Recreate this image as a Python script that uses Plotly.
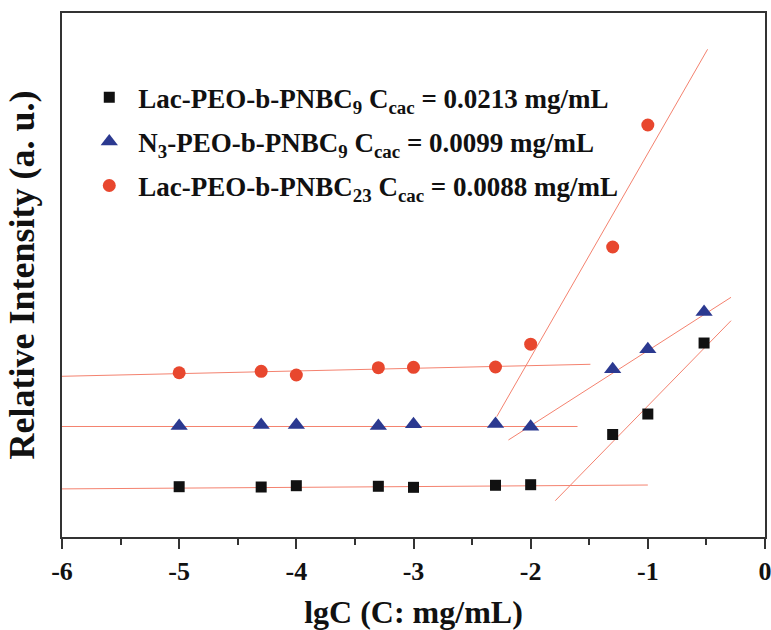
import plotly.graph_objects as go

# concentrations (lgC) and relative intensities (a.u.)
lgc = [-5.0, -4.3, -4.0, -3.3, -3.0, -2.3, -2.0, -1.3, -1.0, -0.52]
lgc_red = [-5.0, -4.3, -4.0, -3.3, -3.0, -2.3, -2.0, -1.3, -1.0]

lac9 = [9.60, 9.54, 9.79, 9.68, 9.48, 9.87, 9.98, 19.56, 23.47, 37.02]
n3_9 = [21.18, 21.37, 21.37, 21.18, 21.51, 21.56, 21.05, 32.00, 35.82, 42.94]
lac23 = [31.35, 31.62, 30.92, 32.31, 32.39, 32.44, 36.79, 55.34, 78.63]

# fitted line segments (endpoints)
fit_lac9_flat_x, fit_lac9_flat_y = [-6.0, -1.0], [9.18, 9.92]
fit_lac9_steep_x, fit_lac9_steep_y = [-1.79, -0.29], [6.93, 41.28]
fit_n3_flat_x, fit_n3_flat_y = [-6.0, -1.6], [21.09, 21.09]
fit_n3_steep_x, fit_n3_steep_y = [-2.19, -0.29], [18.51, 45.74]
fit_lac23_flat_x, fit_lac23_flat_y = [-6.0, -1.49], [30.67, 32.96]
fit_lac23_steep_x, fit_lac23_steep_y = [-2.29, -0.49], [22.96, 93.07]

x_ticks = [-6, -5, -4, -3, -2, -1, 0]

FONT = "Liberation Serif"
LINE_COLOR = "#f4826f"

fig = go.Figure()

for fx, fy in [(fit_lac9_flat_x, fit_lac9_flat_y), (fit_lac9_steep_x, fit_lac9_steep_y),
               (fit_n3_flat_x, fit_n3_flat_y), (fit_n3_steep_x, fit_n3_steep_y),
               (fit_lac23_flat_x, fit_lac23_flat_y), (fit_lac23_steep_x, fit_lac23_steep_y)]:
    fig.add_trace(go.Scatter(x=fx, y=fy, mode="lines", line=dict(color=LINE_COLOR, width=1),
                             showlegend=False, hoverinfo="skip"))

fig.add_trace(go.Scatter(x=lgc, y=lac9, mode="markers", legendgroup="a",
                         name="Lac-PEO-b-PNBC<sub>9</sub> C<sub>cac</sub> = 0.0213 mg/mL",
                         marker=dict(symbol="square", size=11, color="#111111")))
fig.add_trace(go.Scatter(x=lgc, y=n3_9, mode="markers", legendgroup="b",
                         name="N<sub>3</sub>-PEO-b-PNBC<sub>9</sub> C<sub>cac</sub> = 0.0099 mg/mL",
                         marker=dict(symbol="triangle-up", size=15, color="#2b3990")))
fig.add_trace(go.Scatter(x=lgc_red, y=lac23, mode="markers", legendgroup="c",
                         name="Lac-PEO-b-PNBC<sub>23</sub> C<sub>cac</sub> = 0.0088 mg/mL",
                         marker=dict(symbol="circle", size=13, color="#e8472e")))

fig.update_layout(
    width=771, height=630,
    margin=dict(l=62, r=6, t=13, b=93),
    paper_bgcolor="white", plot_bgcolor="white",
    font=dict(family=FONT, color="#111111", weight="bold"),
    legend=dict(x=0.026, y=0.885, xanchor="left", yanchor="top",
                font=dict(family=FONT, size=27, color="#111111", weight="bold"),
                bgcolor="rgba(0,0,0,0)", itemwidth=48, tracegroupgap=6),
    xaxis=dict(range=[-6, 0], tickvals=x_ticks, ticktext=[str(v) for v in x_ticks],
               ticks="outside", ticklen=10, tickwidth=2, tickcolor="#333333",
               minor=dict(dtick=0.5, ticks="outside", ticklen=6, tickwidth=2, tickcolor="#333333"),
               showline=True, linewidth=2, linecolor="#333333", mirror=True,
               showgrid=False, zeroline=False, automargin=False, ticklabeloverflow="allow",
               tickfont=dict(family=FONT, size=26, color="#111111", weight="bold"),
               title=dict(text="lgC (C: mg/mL)", standoff=22,
                          font=dict(family=FONT, size=32, color="#111111", weight="bold"))),
    yaxis=dict(range=[0, 100], showticklabels=False, ticks="",
               showline=True, linewidth=2, linecolor="#333333", mirror=True,
               showgrid=False, zeroline=False, automargin=False,
               title=dict(text="Relative Intensity (a. u.)", standoff=14,
                          font=dict(family=FONT, size=36, color="#111111", weight="bold"))),
)

fig.write_html("out.html")
